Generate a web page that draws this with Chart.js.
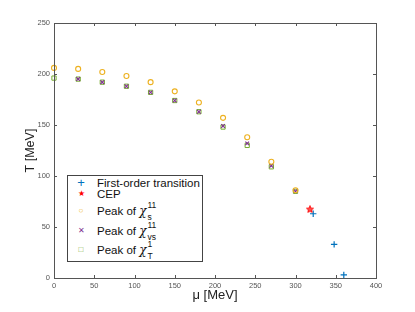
<!DOCTYPE html>
<html><head><meta charset="utf-8">
<script src="https://cdn.jsdelivr.net/npm/chart.js@4"></script>
<style>
body{margin:0;background:#fff}
#wrap{position:relative;width:415px;height:312px}
#leg{position:absolute;left:67px;top:175px;width:136px;height:87px;border:1px solid #444;background:#fff;font-family:'Liberation Sans',Arial,sans-serif;font-size:11.5px;color:#111;box-sizing:border-box}
.r{position:absolute;left:0;height:14px;line-height:14px;white-space:nowrap}
.m{position:absolute;left:6px;width:14px;text-align:center;font-size:10px}
.t{position:absolute;left:29px;top:0;height:14px;display:flex;align-items:center;white-space:pre}
.chi{font-family:'DejaVu Serif','Liberation Serif',serif;font-style:italic;font-size:12px;line-height:14px}
.ss{display:flex;flex-direction:column;font-size:8.5px;line-height:12px;margin-left:1px;margin-top:-1px}
</style></head><body>
<div id="wrap"><canvas id="c" width="415" height="312"></canvas>
<div id="leg">
 <div class="r" style="top:0px"><span class="m" style="color:#0072BD;font-size:13px">+</span><span class="t">First-order transition</span></div>
 <div class="r" style="top:11px"><span class="m" style="color:#FF0000;font-size:8px">★</span><span class="t">CEP</span></div>
 <div class="r" style="top:28px"><span class="m" style="color:#EDB120;font-size:8px">○</span><span class="t">Peak of <span class="chi">χ</span><span class="ss"><span>11</span><span>s</span></span></span></div>
 <div class="r" style="top:48px"><span class="m" style="color:#7E2F8E;font-size:8px">✕</span><span class="t">Peak of <span class="chi">χ</span><span class="ss"><span>11</span><span>vs</span></span></span></div>
 <div class="r" style="top:67px"><span class="m" style="color:#77AC30;font-size:8px">□</span><span class="t">Peak of <span class="chi">χ</span><span class="ss"><span>1</span><span>T</span></span></span></div>
</div>
</div>
<script>
// Data
const firstOrderMu = [322, 348, 360];
const firstOrderT  = [63, 33, 3];
const cepMu = [318];
const cepT  = [67.5];
const chiS_Mu = [0, 30, 60, 90, 120, 150, 180, 210, 240, 270, 300];
const chiS_T  = [206, 205, 202, 198, 192, 183, 172, 157, 138, 114, 86];
const chiVS_Mu = [30, 60, 90, 120, 150, 180, 210, 240, 270, 300];
const chiVS_T  = [195, 192, 188, 182, 174, 163, 149, 132, 110, 85];
const chiT_Mu = [0, 30, 60, 90, 120, 150, 180, 210, 240, 270, 300];
const chiT_T  = [196, 195, 192, 188, 182, 174, 163, 148, 130, 109, 85];
const xTicks = [0, 50, 100, 150, 200, 250, 300, 350, 400];
const yTicks = [0, 50, 100, 150, 200, 250];

const pts = (xs, ys) => xs.map((x, i) => ({x, y: ys[i]}));

// pentagram point style
const star = document.createElement('canvas');
star.width = 8; star.height = 8;
(function(){
  const g = star.getContext('2d');
  g.beginPath();
  for (let i = 0; i < 10; i++) {
    const r = i % 2 ? 1.6 : 3.7;
    const a = -Math.PI/2 + i*Math.PI/5;
    const px = 4 + r*Math.cos(a), py = 4.3 + r*Math.sin(a);
    i ? g.lineTo(px, py) : g.moveTo(px, py);
  }
  g.closePath();
  g.fillStyle = '#ff5050'; g.fill();
  g.strokeStyle = '#ff0000'; g.lineWidth = 0.9; g.stroke();
})();

const frame = {
  id: 'frame',
  afterDraw(chart) {
    const {ctx, chartArea: a, scales: {x, y}} = chart;
    ctx.save();
    ctx.strokeStyle = '#555'; ctx.lineWidth = 1;
    ctx.strokeRect(a.left + 0.5, a.top + 0.5, a.right - a.left, a.bottom - a.top);
    const L = 3;
    ctx.beginPath();
    xTicks.forEach(v => {
      const px = Math.round(x.getPixelForValue(v)) + 0.5;
      ctx.moveTo(px, a.bottom); ctx.lineTo(px, a.bottom - L);
      ctx.moveTo(px, a.top); ctx.lineTo(px, a.top + L);
    });
    yTicks.forEach(v => {
      const py = Math.round(y.getPixelForValue(v)) + 0.5;
      ctx.moveTo(a.left, py); ctx.lineTo(a.left + L, py);
      ctx.moveTo(a.right, py); ctx.lineTo(a.right - L, py);
    });
    ctx.stroke();
    ctx.restore();
  }
};

new Chart(document.getElementById('c'), {
  type: 'scatter',
  data: {
    datasets: [
      {label: 'CEP', data: pts(cepMu, cepT), pointStyle: star, radius: 4},
      {label: 'First-order transition', data: pts(firstOrderMu, firstOrderT), pointStyle: 'cross', radius: 3.2, borderColor: '#0072BD', borderWidth: 1.2},
      {label: 'Peak of chi_s', data: pts(chiS_Mu, chiS_T), pointStyle: 'circle', radius: 2.5, borderColor: '#EDB120', backgroundColor: 'rgba(0,0,0,0)', borderWidth: 1.1},
      {label: 'Peak of chi_vs', data: pts(chiVS_Mu, chiVS_T), pointStyle: 'crossRot', radius: 2.6, borderColor: '#7E2F8E', borderWidth: 1.1},
      {label: 'Peak of chi_T', data: pts(chiT_Mu, chiT_T), pointStyle: 'rect', radius: 3, borderColor: '#77AC30', backgroundColor: 'rgba(0,0,0,0)', borderWidth: 1}
    ]
  },
  options: {
    responsive: false,
    animation: false,
    clip: false,
    layout: {padding: {left: 0, top: 23, right: 39, bottom: 0}},
    plugins: {legend: {display: false}, tooltip: {enabled: false}},
    scales: {
      x: {
        type: 'linear', min: 0, max: 400,
        afterBuildTicks: s => { s.ticks = xTicks.map(v => ({value: v})); },
        afterFit: s => { s.height = 34; },
        grid: {display: false, drawTicks: false},
        border: {display: false},
        ticks: {color: '#555', font: {size: 7.5, family: 'Liberation Sans'}, padding: 3, maxRotation: 0},
        title: {display: true, text: 'μ [MeV]', color: '#222', font: {size: 13, family: 'Liberation Sans'}, padding: {top: 0, bottom: 9}}
      },
      y: {
        type: 'linear', min: 0, max: 250,
        afterBuildTicks: s => { s.ticks = yTicks.map(v => ({value: v})); },
        afterFit: s => { s.width = 54; },
        grid: {display: false, drawTicks: false},
        border: {display: false},
        ticks: {color: '#555', font: {size: 7.5, family: 'Liberation Sans'}, padding: 4},
        title: {display: true, text: 'T [MeV]', color: '#222', font: {size: 12.5, family: 'Liberation Sans'}, padding: {top: 23, bottom: 0}}
      }
    }
  },
  plugins: [frame]
});
</script>
</body></html>
